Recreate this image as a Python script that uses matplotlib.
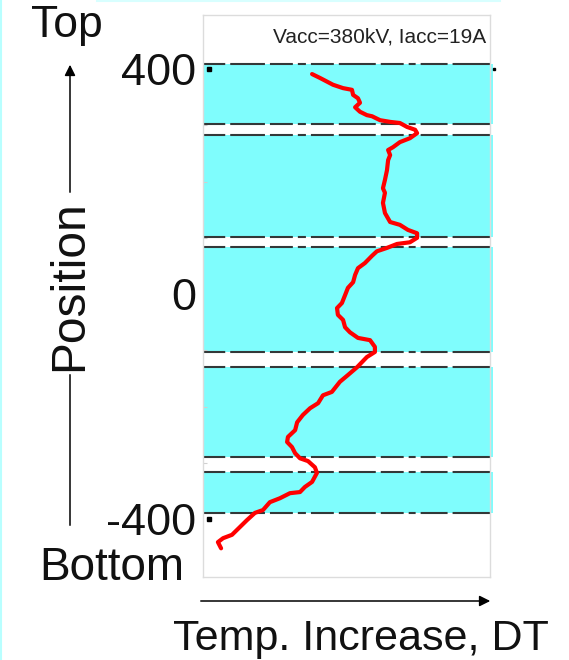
import matplotlib
matplotlib.use("Agg")
import matplotlib.pyplot as plt
from matplotlib.lines import Line2D
from matplotlib.patches import FancyArrowPatch

plt.rcParams['font.family'] = ['Liberation Sans', 'DejaVu Sans']
plt.rcParams['lines.scale_dashes'] = False

W, H = 569, 660

# Temperature-rise profile along the structure (arbitrary DT units vs position)
dt = [38.0, 40.8, 45.3, 48.8, 51.9, 52.3, 54.0, 54.7, 53.0, 54.7, 57.1, 58.9,
      61.7, 65.2, 68.6, 71.1, 73.9, 74.6, 72.1, 68.6, 66.2, 64.5, 65.2, 64.5,
      64.1, 63.4, 62.7, 63.4, 62.7, 63.4, 65.2, 68.6, 71.4, 74.6, 74.6, 72.1,
      67.6, 64.1, 60.6, 58.9, 56.4, 54.0, 53.0, 52.3, 50.5, 49.5, 48.4, 46.7,
      47.0, 48.8, 49.5, 51.2, 54.0, 58.2, 59.9, 59.9, 57.1, 53.7, 50.5, 47.7,
      44.9, 41.8, 40.1, 37.3, 34.8, 32.8, 32.1, 29.6, 29.3, 31.0, 32.1, 33.8,
      36.6, 39.0, 39.7, 38.0, 35.5, 33.8, 30.3, 26.8, 23.3, 20.9, 18.1, 15.3,
      12.9, 10.1, 7.0, 5.2, 6.3]
position = [391, 384, 372, 366, 363, 354, 348, 340, 332, 324, 318, 316,
            309, 306, 304, 297, 292, 286, 277, 270, 261, 256, 247, 238,
            220, 203, 188, 180, 162, 144, 128, 123, 114, 108, 100, 92,
            89, 82, 76, 68, 55, 46, 34, 21, 11, -2, -16, -25,
            -37, -46, -59, -68, -78, -82, -94, -103, -112, -130, -144, -156,
            -174, -180, -194, -203, -215, -228, -242, -254, -263, -272, -283, -292,
            -297, -308, -318, -334, -343, -352, -354, -363, -370, -384, -389, -402,
            -414, -428, -434, -441, -452]

# Shaded sections (upper and lower edge in position units)
band_top = [409, 283, 84, -130, -316]
band_bottom = [302, 101, -103, -290, -389]

ytick_vals = [400, 0, -400]
ytick_labels = ['400', '0', '-400']
minor_vals = [-300, -200, -100, 100, 200, 300]


def fx(x):
    return x / W


def fy(y):
    return 1 - y / H


fig = plt.figure(figsize=(W / 100, H / 100), dpi=100)
fig.patch.set_facecolor('white')

ax = fig.add_axes([fx(203), fy(577), (490 - 203) / W, (577 - 15) / H])
ax.set_xlim(0, 100)
ax.set_ylim(-503, 496)

band_color = '#7ffdfd'
dash_pattern = (0, (16, 3.6, 25, 3.6, 16.5, 3.6, 5.8, 3.6, 16.5, 3.6,
                    26.6, 3.6, 16.5, 3.6, 5, 3.6, 19.4, 3.6, 29, 3.6))
for top, bot in zip(band_top, band_bottom):
    ax.axhspan(bot, top, xmin=0, xmax=1.01, color=band_color, lw=0,
               zorder=1, clip_on=False)
    for yv in (top, bot):
        ax.axhline(yv, color='#333838', lw=1.5, linestyle=dash_pattern,
                   zorder=2)

ax.plot(dt, position, color='#ff0000', lw=3.0, solid_joinstyle='round',
        solid_capstyle='round', zorder=3)

# small marks at the labelled +-400 levels
for yv in (ytick_vals[0], ytick_vals[-1]):
    ax.plot([2.0], [yv], marker='s', ms=2.6, color='black', mec='black',
            clip_on=False, zorder=4)
ax.plot([101.4], [ytick_vals[0]], marker='s', ms=1.8, color='black',
        clip_on=False, zorder=4)

for side in ('left', 'right', 'top', 'bottom'):
    ax.spines[side].set_color('#dcdcdc')
    ax.spines[side].set_linewidth(1.0)
ax.set_xticks([])
ax.set_yticks(ytick_vals)
ax.set_yticklabels(ytick_labels)
ax.tick_params(axis='y', which='major', length=0, pad=5, labelsize=32.5,
               labelcolor='#111111')
ax.set_yticks(minor_vals, minor=True)
ax.tick_params(axis='y', which='minor', direction='in', length=3,
               color='#d0d0d0', width=0.8)

ax.text(0.985, 0.951, 'Vacc=380kV, Iacc=19A', transform=ax.transAxes,
        ha='right', va='baseline', fontsize=15, color='#222222')

# light frame lines along the left and top edges
fig.add_artist(Line2D([fx(1), fx(1)], [0, 1], transform=fig.transFigure,
                      color='#b8ffff', lw=1.5))
fig.add_artist(Line2D([fx(97), fx(500)], [fy(0.5), fy(0.5)],
                      transform=fig.transFigure, color='#d8ffff', lw=1.5))

# vertical position arrow with label
fig.add_artist(FancyArrowPatch((fx(70), fy(195)), (fx(70), fy(62)),
                               transform=fig.transFigure, arrowstyle='-|>',
                               mutation_scale=16, color='black', lw=1.1))
fig.add_artist(Line2D([fx(70), fx(70)], [fy(375), fy(525)],
                      transform=fig.transFigure, color='black', lw=1.1))
fig.text(fx(70), fy(286), 'Position', rotation=90, ha='center', va='center',
         fontsize=34.5, color='#111111')
fig.text(fx(67), fy(37), 'Top', ha='center', va='baseline', fontsize=32,
         color='#111111')
fig.text(fx(112), fy(580), 'Bottom', ha='center', va='baseline', fontsize=33,
         color='#111111')

# horizontal temperature arrow with label
fig.add_artist(FancyArrowPatch((fx(198), fy(601)), (fx(493), fy(601)),
                               transform=fig.transFigure, arrowstyle='-|>',
                               mutation_scale=16, color='black', lw=1.1))
fig.text(fx(361), fy(650), 'Temp. Increase, DT', ha='center', va='baseline',
         fontsize=31, color='#111111')

fig.savefig('out.png', dpi=100, facecolor='white')
